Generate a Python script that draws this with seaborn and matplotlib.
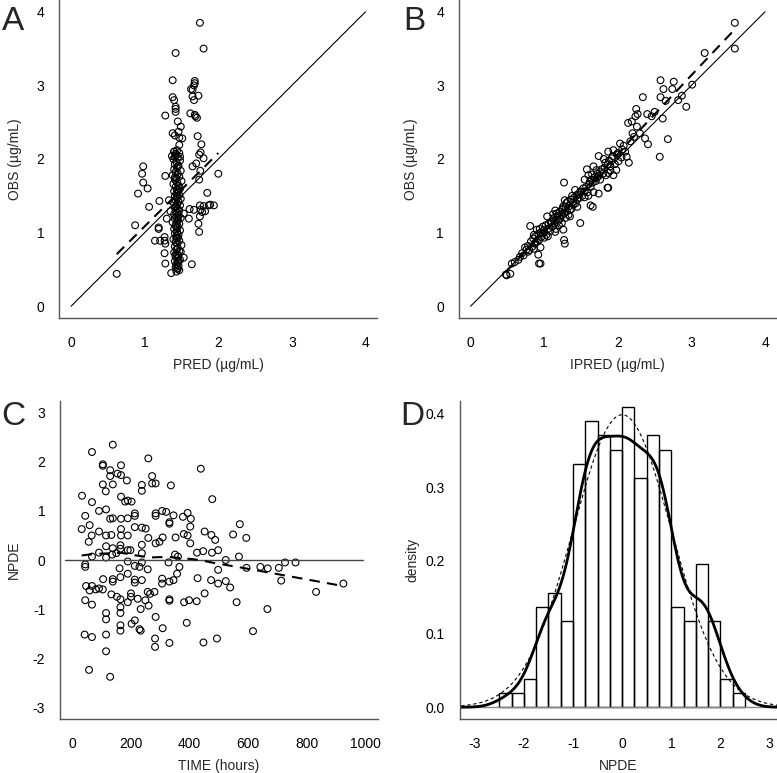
"""
plot.py - goodness-of-fit panel: OBS vs PRED, OBS vs IPRED, NPDE vs TIME and
the NPDE distribution against N(0,1). Values were read off the reference chart.
"""

import numpy as np
import pandas as pd
import matplotlib
matplotlib.use("Agg")
import matplotlib.pyplot as plt
import seaborn as sns


# ── Data ────────────────────────────────────────────────────────────────────

# panel A: population prediction vs observation
pred_a = [
    1.75, 1.80, 1.42, 1.38, 1.68, 1.68, 1.67, 1.63, 1.65, 1.38, 1.40, 1.65, 1.73, 1.67,
    1.42, 1.42, 1.42, 1.28, 1.62, 1.68, 1.71, 1.69, 1.45, 1.49, 1.46, 1.38, 1.41, 1.51,
    1.47, 1.72, 1.47, 1.77, 1.40, 1.42, 1.37, 1.41, 1.48, 1.74, 1.76, 1.80,
    0.98, 0.965, 0.98, 1.04, 0.91, 1.20, 1.06, 0.87, 1.19, 1.19, 0.62, 1.28, 1.65, 1.70,
    1.755, 1.74, 2.00, 1.85, 1.61, 1.67, 1.75, 1.80, 1.76, 1.82, 1.87, 1.94, 1.75, 1.60,
    1.53, 1.33, 1.35, 1.30, 1.74, 1.14, 1.21, 1.27, 1.28, 1.27, 1.27, 1.28, 1.64, 1.53,
    1.49, 1.36, 1.45, 1.73, 1.78, 1.89,
    1.44, 1.40, 1.47, 1.42, 1.45, 1.39, 1.48, 1.43, 1.41, 1.46, 1.44, 1.40, 1.49, 1.42,
    1.45, 1.38, 1.47, 1.43, 1.41, 1.50, 1.44, 1.39, 1.46, 1.42, 1.48, 1.44, 1.40, 1.45,
    1.43, 1.47, 1.41, 1.44, 1.49, 1.42, 1.46, 1.39, 1.44, 1.48, 1.43, 1.41, 1.45, 1.47,
    1.42, 1.44, 1.40, 1.46, 1.43, 1.49, 1.41, 1.45, 1.44, 1.38, 1.47, 1.42, 1.45, 1.43,
    1.40, 1.48, 1.44, 1.41, 1.46, 1.43, 1.45, 1.39, 1.47, 1.42, 1.44, 1.50, 1.41, 1.45,
    1.43, 1.47, 1.40, 1.44, 1.46, 1.42, 1.44, 1.48, 1.41, 1.45, 1.43, 1.46, 1.42, 1.44,
    1.47, 1.43, 1.44, 1.42, 1.45, 1.43, 1.44, 1.46, 1.41, 1.45, 1.43, 1.42, 1.46,
]
obs_a = [
    3.85, 3.50, 3.44, 3.07, 3.06, 3.03, 3.00, 2.95, 2.94, 2.84, 2.80, 2.85, 2.86, 2.80,
    2.71, 2.68, 2.64, 2.59, 2.62, 2.60, 2.56, 2.58, 2.51, 2.44, 2.37, 2.35, 2.32, 2.28,
    2.29, 2.31, 2.19, 2.20, 2.10, 2.07, 2.04, 2.03, 2.03, 2.06, 2.09, 2.01,
    1.90, 1.80, 1.68, 1.60, 1.53, 1.43, 1.35, 1.10, 1.07, 1.05, 0.44, 1.77, 1.90, 1.94,
    1.84, 1.72, 1.80, 1.54, 1.32, 1.31, 1.37, 1.36, 1.31, 1.29, 1.37, 1.37, 1.22, 1.19,
    1.26, 1.44, 1.29, 1.19, 1.01, 0.89, 0.89, 0.89, 0.85, 0.94, 0.72, 0.58, 0.57, 0.66,
    0.74, 0.45, 0.51, 1.12, 1.28, 1.38,
    2.12, 2.10, 2.08, 2.05, 2.02, 2.00, 1.98, 1.96, 1.93, 1.91, 1.88, 1.86, 1.84, 1.82,
    1.80, 1.78, 1.76, 1.74, 1.72, 1.70, 1.68, 1.66, 1.64, 1.62, 1.60, 1.58, 1.56, 1.55,
    1.53, 1.51, 1.49, 1.47, 1.46, 1.44, 1.42, 1.41, 1.39, 1.37, 1.36, 1.34, 1.32, 1.30,
    1.29, 1.27, 1.25, 1.24, 1.22, 1.20, 1.19, 1.17, 1.15, 1.14, 1.12, 1.10, 1.08, 1.07,
    1.05, 1.03, 1.01, 0.99, 0.97, 0.95, 0.93, 0.91, 0.89, 0.87, 0.85, 0.83, 0.81, 0.79,
    0.77, 0.75, 0.73, 0.71, 0.69, 0.67, 0.65, 0.63, 0.61, 0.59, 0.57, 0.55, 0.53, 0.51,
    0.49, 0.47, 1.50, 1.35, 1.20, 1.12, 1.00, 1.58, 1.75, 1.90, 0.92, 0.70, 0.62,
]

# panel B: individual prediction vs observation
ipred_b = [
    3.59, 3.59, 3.18, 3.01, 2.58, 2.76, 2.62, 2.74, 2.34, 2.58, 2.65, 2.87, 2.82, 2.93,
    2.25, 2.27, 2.24, 2.19, 2.26, 2.40, 2.46, 2.50, 2.61, 2.14, 2.20, 2.30, 2.37, 2.41,
    2.68, 2.57, 2.03, 2.06, 2.12, 2.15, 1.94, 1.99, 1.92, 2.01, 1.74, 1.87, 1.81, 1.83,
    1.90, 1.87, 1.98, 1.94, 1.87, 1.67, 1.71, 1.76, 1.65, 1.72, 1.58, 1.60, 1.55, 1.62,
    1.74, 1.67, 1.63, 1.66, 1.49, 1.27, 1.42, 1.49, 1.44, 1.38, 1.40, 1.35, 1.28, 1.30,
    1.26, 1.24, 1.33, 1.29, 1.24, 1.26, 1.27, 1.28, 1.17, 1.13, 1.20, 1.15, 1.04, 1.09,
    1.00, 0.81, 0.90, 0.95, 0.86, 1.00, 0.93, 0.88, 0.95, 0.86, 0.92, 0.95, 0.76, 0.78,
    0.87, 0.67, 0.65, 0.60, 0.56, 0.48, 0.54, 0.49, 0.93, 1.86,
    0.70, 0.72, 0.74, 0.78, 0.80, 0.82, 0.84, 0.85, 0.88, 0.90, 0.92, 0.94, 0.96, 0.98,
    1.00, 1.02, 1.03, 1.05, 1.06, 1.08, 1.10, 1.11, 1.12, 1.14, 1.16, 1.18, 1.19, 1.21,
    1.22, 1.24, 1.25, 1.27, 1.29, 1.31, 1.32, 1.34, 1.36, 1.37, 1.39, 1.41, 1.43, 1.45,
    1.46, 1.48, 1.50, 1.52, 1.53, 1.55, 1.57, 1.59, 1.61, 1.63, 1.64, 1.66, 1.68, 1.70,
    1.72, 1.74, 1.76, 1.78, 1.80, 1.82, 1.84, 1.86, 1.88, 1.90, 1.93, 1.96, 2.00, 2.05,
    2.08, 2.10, 2.17, 2.22, 1.12, 1.05, 0.98, 1.15, 1.35, 1.45, 1.55, 1.60,
]
obs_b = [
    3.85, 3.50, 3.44, 3.01, 3.07, 3.05, 2.95, 2.95, 2.84, 2.84, 2.79, 2.86, 2.80, 2.71,
    2.68, 2.61, 2.58, 2.51, 2.44, 2.61, 2.58, 2.64, 2.55, 2.49, 2.35, 2.35, 2.28, 2.20,
    2.27, 2.03, 2.21, 2.13, 2.03, 1.95, 2.12, 2.06, 2.01, 1.97, 2.04, 2.10, 2.00, 1.95,
    1.90, 1.81, 1.85, 1.78, 1.61, 1.90, 1.85, 1.83, 1.79, 1.75, 1.86, 1.78, 1.72, 1.69,
    1.53, 1.55, 1.37, 1.35, 1.13, 1.68, 1.58, 1.56, 1.51, 1.50, 1.38, 1.31, 1.44, 1.40,
    1.36, 1.31, 1.24, 1.20, 1.13, 1.04, 0.90, 0.85, 1.26, 1.20, 1.10, 1.01, 1.22, 1.14,
    1.04, 1.09, 1.04, 1.00, 0.97, 0.93, 0.90, 0.86, 0.80, 0.78, 0.70, 0.58, 0.77, 0.74,
    0.85, 0.67, 0.63, 0.60, 0.58, 0.43, 0.44, 0.42, 0.58, 1.61,
    0.72, 0.69, 0.80, 0.82, 0.76, 0.88, 0.81, 0.92, 0.95, 0.88, 0.98, 1.05, 0.94, 1.08,
    1.00, 1.10, 0.97, 1.05, 1.12, 1.02, 1.15, 1.08, 1.18, 1.12, 1.05, 1.22, 1.16, 1.28,
    1.19, 1.24, 1.33, 1.27, 1.35, 1.29, 1.42, 1.36, 1.45, 1.32, 1.41, 1.48, 1.40, 1.46,
    1.52, 1.47, 1.55, 1.50, 1.60, 1.56, 1.62, 1.55, 1.66, 1.62, 1.72, 1.68, 1.75, 1.70,
    1.80, 1.77, 1.72, 1.86, 1.80, 1.88, 1.78, 1.92, 1.98, 1.84, 2.04, 1.93, 2.08, 2.02,
    2.18, 2.10, 2.24, 2.30, 1.25, 0.95, 0.99, 1.30, 1.22, 1.35, 1.48, 1.50,
]

# panel C: NPDE over time
time_c = [
    138, 67, 259, 104, 104, 166, 129, 154, 166, 129, 438, 272, 186, 104, 138, 237, 237,
    114, 272, 284, 336, 33, 67, 166, 180, 202, 189, 477, 91, 115, 44, 129, 138, 166, 189,
    213, 213, 284, 284, 306, 320, 331, 331, 345, 377, 393, 404, 402, 32, 59, 66, 91, 115,
    133, 166, 166, 189, 213, 237, 250, 259, 284, 297, 308, 352, 380, 393, 402, 451, 474,
    487, 56, 115, 138, 164, 164, 189, 198, 237, 91, 136, 150, 67, 115, 237, 350, 360, 425,
    446, 476,
    44, 44, 189, 237, 328, 161, 213, 229, 257, 365, 189, 164, 138, 138, 105, 213, 213,
    237, 306, 306, 331, 345, 357, 427, 473, 47, 67, 80, 91, 104, 59, 133, 152, 164, 189,
    200, 200, 223, 249, 257, 280, 265, 233, 260, 331, 331, 381, 398, 424, 451, 44, 67,
    115, 115, 164, 164, 202, 213, 229, 233, 164, 164, 284, 308, 390, 42, 67, 115, 282,
    282, 331, 447, 493, 115, 57, 129,
    571, 548, 593, 497, 523, 568, 497, 594, 641, 666, 704, 725, 761, 712, 497, 523, 538,
    831, 924, 560, 665, 616,
]
npde_c = [
    2.35, 2.20, 2.07, 1.95, 1.92, 1.93, 1.83, 1.76, 1.73, 1.71, 1.86, 1.71, 1.62, 1.54,
    1.54, 1.53, 1.41, 1.40, 1.56, 1.56, 1.52, 1.31, 1.18, 1.29, 1.19, 1.19, 1.21, 1.24,
    1.00, 1.03, 0.90, 0.84, 0.85, 0.84, 0.85, 0.95, 0.90, 0.95, 0.90, 1.00, 0.98, 0.77,
    0.74, 0.91, 0.88, 0.96, 0.84, 0.68, 0.63, 0.71, 0.50, 0.58, 0.50, 0.51, 0.63, 0.50,
    0.50, 0.67, 0.66, 0.64, 0.45, 0.34, 0.37, 0.46, 0.46, 0.53, 0.50, 0.34, 0.58, 0.51,
    0.41, 0.37, 0.28, 0.24, 0.30, 0.23, 0.20, 0.20, 0.31, 0.15, 0.11, 0.14, 0.07, 0.05,
    0.14, 0.11, 0.07, 0.15, 0.18, 0.15,
    -0.09, -0.14, -0.03, -0.05, -0.05, -0.17, -0.12, -0.14, -0.19, -0.14, -0.28, -0.35,
    -0.39, -0.44, -0.39, -0.40, -0.46, -0.41, -0.38, -0.48, -0.44, -0.41, -0.28, -0.37,
    -0.41, -0.53, -0.53, -0.60, -0.58, -0.60, -0.62, -0.70, -0.75, -0.80, -0.86, -0.68,
    -0.75, -0.79, -0.82, -0.65, -0.65, -0.69, -1.00, -0.93, -0.80, -0.83, -0.86, -0.82,
    -0.84, -0.68, -0.82, -0.91, -1.08, -1.21, -1.08, -0.96, -1.30, -1.23, -1.41, -1.44,
    -1.33, -1.44, -1.16, -1.39, -1.28, -1.52, -1.57, -1.52, -1.60, -1.77, -1.69, -1.68,
    -1.60, -1.86, -2.24, -2.38,
    0.73, 0.52, 0.45, 0.20, 0.00, 0.07, -0.20, -0.16, -0.14, -0.17, -0.16, -0.05, -0.05,
    -0.42, -0.48, -0.43, -0.56, -0.65, -0.48, -0.86, -1.00, -1.45,
]

# panel D: NPDE histogram (density per 0.25-wide bin, from -2.5 to 2.5)
npde_bin_centers = [
    -2.375, -2.125, -1.875, -1.625, -1.375, -1.125, -0.875, -0.625, -0.375, -0.125,
    0.125, 0.375, 0.625, 0.875, 1.125, 1.375, 1.625, 1.875, 2.125, 2.375,
]
npde_density = [
    0.0195, 0.0195, 0.039, 0.137, 0.156, 0.117, 0.332, 0.390, 0.371, 0.351,
    0.410, 0.312, 0.371, 0.351, 0.137, 0.117, 0.195, 0.117, 0.039, 0.0195,
]

identity_range = [0, 4]


# ── Helpers ─────────────────────────────────────────────────────────────────

def lowess(x, y, f=2 / 3, iters=3):
    """Plain LOWESS (local linear, tricube weights, robustness iterations)."""
    x = np.asarray(x, float); y = np.asarray(y, float)
    o = np.argsort(x, kind="mergesort")
    x, y = x[o], y[o]
    n = len(x)
    r = int(np.ceil(f * n))
    fit = np.zeros(n)
    rob = np.ones(n)
    for _ in range(iters + 1):
        for i in range(n):
            d = np.abs(x - x[i])
            h = max(np.sort(d)[r - 1], 1e-9)
            w = (1 - np.clip(d / h, 0, 1) ** 3) ** 3 * rob
            sw = w.sum()
            xm = (w * x).sum() / sw
            ym = (w * y).sum() / sw
            sxx = (w * (x - xm) ** 2).sum()
            b = (w * (x - xm) * (y - ym)).sum() / sxx if sxx > 1e-12 else 0.0
            fit[i] = ym + b * (x[i] - xm)
        res = y - fit
        s = np.median(np.abs(res))
        if s == 0:
            break
        u = np.clip(res / (6 * s), -1, 1)
        rob = (1 - u ** 2) ** 2
    return x, fit


def style_axis(ax, xlim, ylim, xticks, yticks, yfmt=None):
    ax.set_xlim(*xlim); ax.set_ylim(*ylim)
    ax.set_xticks(xticks); ax.set_yticks(yticks)
    if yfmt:
        ax.set_yticklabels([yfmt.format(t) for t in yticks])
    for side in ("top", "right"):
        ax.spines[side].set_visible(False)
    for side in ("left", "bottom"):
        ax.spines[side].set_color(AXC)
        ax.spines[side].set_linewidth(1.0)
    ax.tick_params(direction="out", length=5.2, width=0.9, color=AXC,
                   labelsize=10, labelcolor="black")
    ax.tick_params(axis="x", pad=7.5)
    ax.tick_params(axis="y", pad=5.5)


def set_labels(ax, xlabel, ylabel, left_px, ylabel_right_px):
    ax.set_xlabel(xlabel, fontsize=10, labelpad=6)
    ax.set_ylabel(ylabel, fontsize=10)
    ax.yaxis.set_label_coords((ylabel_right_px - left_px) / 318, 0.5)


def open_points(ax, x, y):
    sns.scatterplot(x=x, y=y, ax=ax, marker="o", s=24, facecolors="none",
                    edgecolors="black", linewidth=0.8, legend=False)


DASH = (0, (5, 3.5))


def smooth_line(ax, x, y):
    xs, ys = lowess(x, y)
    sns.lineplot(x=xs, y=ys, ax=ax, color="black", lw=1.5, estimator=None,
                 errorbar=None, sort=False, linestyle=DASH)


# ── Figure ──────────────────────────────────────────────────────────────────

sns.set_theme(style="white")
plt.rcParams["font.family"] = ["Liberation Sans", "DejaVu Sans"]
plt.rcParams["axes.unicode_minus"] = False
AXC = "#555555"

W, H = 777, 773
fig = plt.figure(figsize=(W / 100, H / 100), dpi=100)


def px_axes(left, top, width=318, height=318):
    return fig.add_axes([left / W, 1 - (top + height) / H, width / W, height / H])


axA = px_axes(59.3, 0.0)
axB = px_axes(458.8, 0.0)
axC = px_axes(60.0, 401.0)
axD = px_axes(459.5, 401.0)

lim4 = (-0.16, 4.16)

# A: OBS vs PRED (straight smoother over the narrow PRED range)
open_points(axA, pred_a, obs_a)
sns.lineplot(x=identity_range, y=identity_range, ax=axA, color="black", lw=0.8)
sns.regplot(x=pred_a, y=obs_a, ax=axA, scatter=False, ci=None, truncate=True,
            line_kws={"color": "black", "lw": 1.5, "linestyle": DASH})
style_axis(axA, lim4, lim4, range(5), range(5))
set_labels(axA, "PRED (µg/mL)", "OBS (µg/mL)", 59.3, 22)

# B: OBS vs IPRED
open_points(axB, ipred_b, obs_b)
sns.lineplot(x=identity_range, y=identity_range, ax=axB, color="black", lw=0.8)
smooth_line(axB, ipred_b, obs_b)
style_axis(axB, lim4, lim4, range(5), range(5))
set_labels(axB, "IPRED (µg/mL)", "OBS (µg/mL)", 458.8, 418)

# C: NPDE vs TIME
open_points(axC, time_c, npde_c)
sns.lineplot(x=[-25, 990], y=[0, 0], ax=axC, color="#444444", lw=1.0)
smooth_line(axC, time_c, npde_c)
style_axis(axC, (-42, 1042), (-3.24, 3.24), range(0, 1001, 200), range(-3, 4))
set_labels(axC, "TIME (hours)", "NPDE", 60.0, 21)

# D: NPDE distribution
hist_df = pd.DataFrame({"npde": npde_bin_centers, "density": npde_density})
axD.axhline(0, color="#888888", lw=1.0)
sns.histplot(data=hist_df, x="npde", weights="density", bins=20, binrange=(-2.5, 2.5),
             stat="count", fill=False, element="bars", color="black", linewidth=1.0,
             ax=axD)
sns.kdeplot(data=hist_df, x="npde", weights="density", bw_method=0.27, cut=3,
            color="black", lw=2.0, ax=axD)
grid = np.linspace(-3.4, 3.4, 300)
normal_pdf = np.exp(-grid ** 2 / 2) / np.sqrt(2 * np.pi)
sns.lineplot(x=grid, y=normal_pdf, ax=axD, color="black", lw=0.8,
             linestyle=(0, (3, 2.5)), estimator=None, errorbar=None)
style_axis(axD, (-3.31, 3.16), (-0.0161, 0.4177), range(-3, 4),
           [0.0, 0.1, 0.2, 0.3, 0.4], yfmt="{:.1f}")
set_labels(axD, "NPDE", "density", 459.5, 419)

# panel letters
for letter, (lx, ly) in {"A": (2, 30), "B": (403, 30), "C": (1, 425), "D": (400, 425)}.items():
    fig.text(lx / W, 1 - ly / H, letter, fontsize=24, ha="left", va="baseline")

fig.savefig("out.png", dpi=100, facecolor="white")
